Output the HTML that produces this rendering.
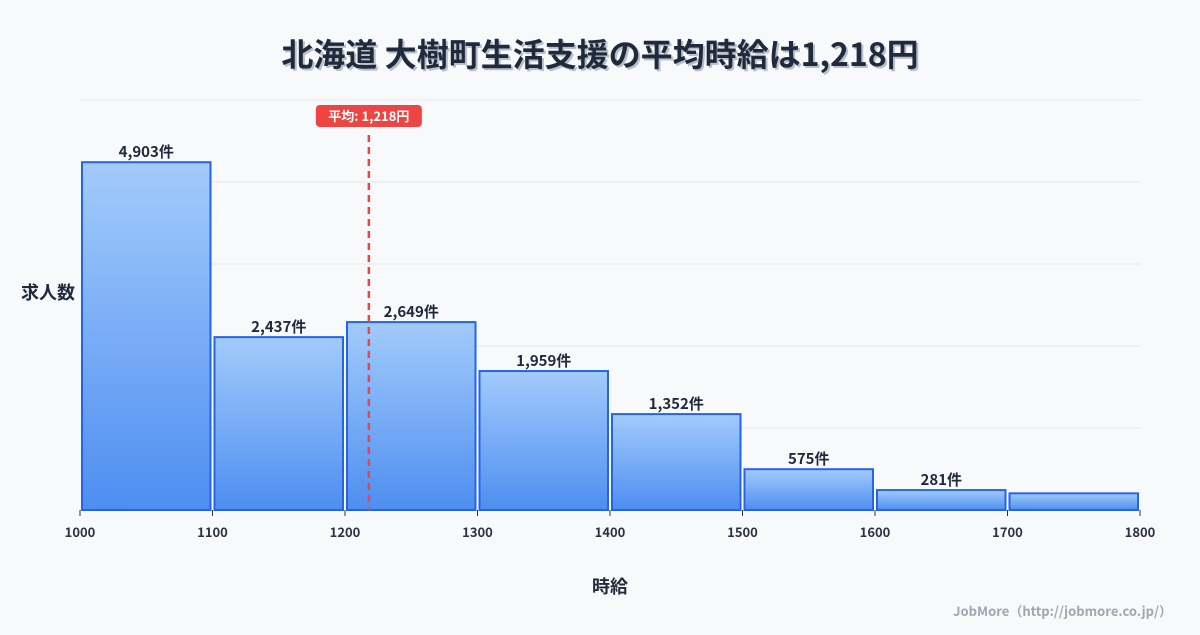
<!DOCTYPE html>
<html><head><meta charset="utf-8"><style>
html,body{margin:0;padding:0;background:#f8f9fb;}
body{width:1200px;height:630px;overflow:hidden;font-family:"Noto Sans CJK JP","Liberation Sans",sans-serif;}
svg text{font-family:"Noto Sans CJK JP","Liberation Sans",sans-serif;}
</style></head><body>
<svg id="c" width="1200" height="630" xmlns="http://www.w3.org/2000/svg">
<defs><linearGradient id="g" x1="0" y1="0" x2="0" y2="1"><stop offset="0" stop-color="#a3cbfb"/><stop offset="1" stop-color="#4e8ef1"/></linearGradient></defs>
<text x="602" y="68" text-anchor="middle" font-size="32" font-weight="bold" fill="#b8c0cc">北海道 大樹町生活支援の平均時給は1,218円</text>
<text x="600" y="66" text-anchor="middle" font-size="32" font-weight="bold" fill="#1f2a3c">北海道 大樹町生活支援の平均時給は1,218円</text>
<g id="grid"></g><g id="bars"></g><g id="ticks"></g>
<text x="48" y="299" text-anchor="middle" font-size="18" font-weight="bold" fill="#1f2a3c">求人数</text>
<text x="610" y="593" text-anchor="middle" font-size="18" font-weight="bold" fill="#1f2a3c">時給</text>
<text x="1172" y="616" text-anchor="end" font-size="13" font-weight="bold" fill="#a0a6b0">JobMore（http://jobmore.co.jp/）</text>
<g id="mean"></g>
</svg>
<script>
const binStarts=[1000,1100,1200,1300,1400,1500,1600,1700];
const counts=[4903,2437,2649,1959,1352,575,281,235];
const labels=["4,903件","2,437件","2,649件","1,959件","1,352件","575件","281件",""];
const xTicks=[1000,1100,1200,1300,1400,1500,1600,1700,1800];
const meanValue=1218;
const binWidth=100, yMax=5780;
const NS="http://www.w3.org/2000/svg";
const X=v=>80+(v-1000)*1.325, Y=v=>510-v/yMax*410;
function mk(t,a,p){const e=document.createElementNS(NS,t);for(const k in a)e.setAttribute(k,a[k]);p.appendChild(e);return e;}
const grid=document.getElementById('grid');
for(let i=0;i<=5;i++){const l=mk('line',{x1:80,x2:1140,y1:Y(yMax*i/5),y2:Y(yMax*i/5),stroke:'#e3e6ea','stroke-width':1},grid);

}
const bars=document.getElementById('bars');
binStarts.forEach((b,i)=>{const x0=X(b)+1,x1=X(b+binWidth)-1,y=Y(counts[i]);
const r=mk('rect',{x:x0+1,y:y,width:x1-x0-2,height:510-y,fill:'url(#g)',stroke:'#2563eb','stroke-width':2},bars);


if(labels[i]){const t=mk('text',{x:(x0+x1)/2,y:y-5,'text-anchor':'middle','font-size':15,'font-weight':'bold',fill:'#1f2a3c'},bars);t.textContent=labels[i];

}});
const tk=document.getElementById('ticks');
xTicks.forEach(v=>{const l=mk('line',{x1:X(v),x2:X(v),y1:510,y2:516,stroke:'#333','stroke-width':1},tk);


const t=mk('text',{x:X(v),y:537,'text-anchor':'middle','font-size':13,'font-weight':'bold',fill:'#2a3344'},tk);t.textContent=v;

});
const m=document.getElementById('mean');const mx=X(meanValue);
const ml=mk('line',{x1:mx,x2:mx,y1:135,y2:510,stroke:'#ef4444','stroke-width':2.5,'stroke-dasharray':'7,5'},m);


const mb=mk('rect',{x:mx-53,y:105,width:106,height:22,rx:4,fill:'#ef4444'},m);


const mt=mk('text',{x:mx,y:121,'text-anchor':'middle','font-size':13,'font-weight':'bold',fill:'#fff'},m);mt.textContent='平均: 1,218円';


</script>
</body></html>
